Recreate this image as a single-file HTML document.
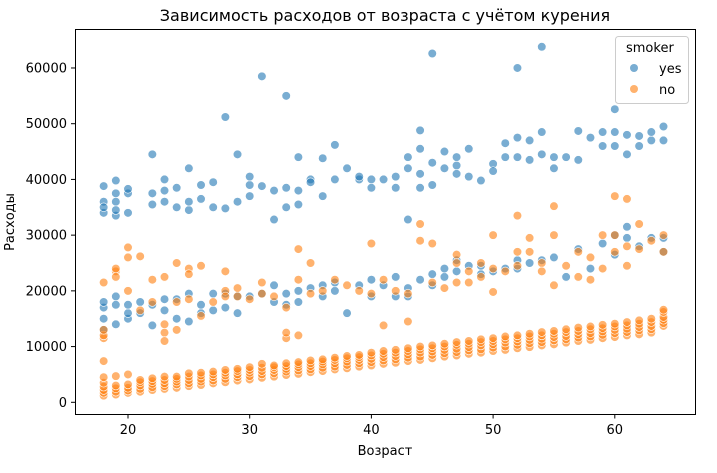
<!DOCTYPE html>
<html><head><meta charset="utf-8"><style>
html,body{margin:0;padding:0;background:#fff;}
svg{display:block;font-family:"DejaVu Sans","Liberation Sans",sans-serif;}
</style></head><body>
<svg id="chart" width="717" height="473">
<text x="385" y="21" font-size="16" text-anchor="middle" fill="#000">Зависимость расходов от возраста с учётом курения</text>
<g id="grid"></g>
<g id="points"></g>
<rect x="75.5" y="29.5" width="620" height="385" fill="none" stroke="#000" stroke-width="1"/>
<g id="xticks"></g>
<g id="yticks"></g>
<text x="385" y="455" font-size="13" text-anchor="middle">Возраст</text>
<text transform="translate(14,222) rotate(-90)" font-size="13" text-anchor="middle">Расходы</text>
<g>
<rect x="615.5" y="36.5" width="73" height="67" rx="3" fill="#fff" fill-opacity="0.8" stroke="#ccc"/>
<text x="626" y="52" font-size="13">smoker</text>
<circle cx="634" cy="68" r="4" fill="#1f77b4" fill-opacity="0.6"/>
<text x="659" y="73" font-size="13">yes</text>
<circle cx="634" cy="89" r="4" fill="#ff7f0e" fill-opacity="0.6"/>
<text x="659" y="94" font-size="13">no</text>
</g>
</svg>
<script>
const xTicks=[20,30,40,50,60];
const yTicks=[0,10000,20000,30000,40000,50000,60000];
const bandAges=[18,19,20,21,22,23,24,25,26,27,28,29,30,31,32,33,34,35,36,37,38,39,40,41,42,43,44,45,46,47,48,49,50,51,52,53,54,55,56,57,58,59,60,61,62,63,64];
const bandCharges=[[1.2,1.7,2.2,2.8,3.5,4.5],[1.4,1.9,2.5,3.0,4.7],[1.7,2.1,2.6,3.2,5.0],[1.9,2.4,3.0,3.6,4.0],[2.2,2.7,3.3,3.8,4.3],[2.4,2.9,3.4,4.0,4.6],[2.6,3.2,3.7,4.2,4.6],[2.9,3.4,4.0,4.6,5.2],[3.1,3.7,4.2,4.8,5.3],[3.4,3.9,4.5,5.0,5.5],[3.6,4.2,4.8,5.3,5.8],[3.9,4.5,5.0,5.6,6.0],[4.1,4.7,5.3,5.8,6.3],[4.4,5.0,5.6,6.2,6.9],[4.6,5.2,5.8,6.3,6.6],[4.9,5.5,6.0,6.5,7.0],[5.1,5.7,6.3,6.8,7.2],[5.4,5.9,6.5,7.0,7.5],[5.6,6.2,6.8,7.3,7.7],[5.9,6.4,7.0,7.6,8.0],[6.1,6.7,7.3,7.9,8.3],[6.4,7.0,7.6,8.1,8.5],[6.6,7.2,7.8,8.4,8.9],[6.9,7.5,8.1,8.7,9.2],[7.1,7.7,8.3,8.9,9.4],[7.4,8.0,8.6,9.2,9.7],[7.6,8.2,8.9,9.5,10.0],[7.9,8.5,9.1,9.7,10.2],[8.2,8.8,9.4,10.0,10.5],[8.4,9.0,9.6,10.3,10.8],[8.7,9.3,9.9,10.5,11.0],[8.9,9.5,10.2,10.8,11.3],[9.2,9.8,10.4,11.0,11.5],[9.4,10.0,10.7,11.3,11.8],[9.7,10.3,10.9,11.5,12.0],[9.9,10.6,11.2,11.8,12.3],[10.2,10.8,11.4,12.0,12.6],[10.4,11.1,11.7,12.3,12.8],[10.7,11.3,11.9,12.6,13.1],[11.0,11.6,12.2,12.8,13.4],[11.2,11.8,12.4,13.1,13.6],[11.5,12.1,12.7,13.3,13.9],[11.7,12.4,13.0,13.6,14.1],[12.0,12.6,13.2,13.8,14.4],[12.2,12.9,13.5,14.1,14.7],[12.5,13.1,13.7,14.4,15.0],[13.7,14.2,14.8,15.3,16.2,16.6]];
const nonSmokerScatter=[[18,7.4],[18,11.5],[18,12.0],[18,13.0],[18,21.5],[19,23.5],[19,24.0],[19,22.5],[20,26.0],[20,27.8],[20,20.0],[21,26.2],[21,16.5],[22,22.0],[22,18.0],[23,12.5],[23,11.0],[23,14.0],[23,22.5],[24,25.0],[24,18.0],[24,13.0],[25,24.0],[25,23.0],[25,18.5],[26,24.5],[26,15.5],[27,18.0],[28,23.5],[28,20.0],[28,19.0],[29,20.5],[29,19.0],[30,18.5],[31,21.5],[31,19.5],[32,19.0],[33,11.5],[33,12.5],[33,17.0],[34,27.5],[34,22.0],[34,12.0],[35,25.0],[35,19.5],[36,20.0],[37,22.0],[38,21.0],[39,20.0],[40,28.5],[40,19.5],[41,13.8],[41,22.0],[42,20.0],[43,14.5],[43,19.5],[44,29.0],[44,32.0],[45,28.5],[45,21.5],[46,20.5],[47,26.5],[47,21.5],[47,25.0],[48,23.5],[48,21.5],[49,25.0],[49,22.5],[50,30.0],[50,24.0],[50,19.8],[51,23.5],[52,33.5],[52,27.0],[52,24.5],[53,29.5],[53,27.0],[54,25.0],[54,23.5],[55,35.2],[55,30.0],[55,21.0],[56,24.5],[57,27.0],[57,22.5],[58,26.0],[58,22.0],[59,24.0],[59,30.0],[60,37.0],[60,30.0],[60,27.0],[61,36.5],[61,24.5],[61,28.0],[62,32.0],[62,27.5],[63,29.0],[64,30.0],[64,27.0]];
const smokerLow=[[18,13.0],[18,15.0],[18,17.0],[18,18.0],[19,14.0],[19,17.5],[19,19.0],[20,15.0],[20,16.0],[20,17.5],[21,16.0],[21,18.0],[22,13.8],[22,17.5],[23,16.5],[23,18.5],[24,15.0],[24,18.5],[25,14.5],[25,19.5],[26,16.0],[26,17.5],[27,16.5],[27,19.5],[28,17.0],[28,19.5],[29,16.0],[29,19.0],[30,19.0],[31,19.5],[32,18.0],[32,21.0],[33,17.5],[33,19.5],[34,18.0],[34,20.0],[35,20.5],[36,19.0],[36,21.0],[37,20.0],[37,21.5],[38,16.0],[39,21.0],[40,19.0],[40,22.0],[41,21.0],[42,19.0],[42,22.5],[43,19.0],[43,20.5],[44,22.0],[45,21.0],[45,23.0],[46,22.5],[46,24.0],[47,23.5],[47,25.5],[48,24.5],[49,23.0],[49,24.5],[50,23.5],[51,24.0],[52,24.0],[52,25.5],[53,25.0],[54,25.5],[55,26.0],[56,22.5],[57,27.5],[58,24.0],[59,28.5],[60,26.5],[60,30.0],[61,29.5],[61,31.5],[62,28.0],[63,29.5],[64,27.0],[64,29.5]];
const smokerHigh=[[18,34.0],[18,36.0],[18,38.8],[18,35.0],[19,33.5],[19,36.0],[19,37.5],[19,39.8],[19,34.5],[20,34.0],[20,37.5],[20,38.3],[22,35.5],[22,37.5],[22,44.5],[23,36.0],[23,38.0],[23,40.0],[24,35.0],[24,38.5],[25,34.5],[25,42.0],[25,36.0],[26,36.5],[26,39.0],[27,35.0],[27,39.5],[28,34.8],[28,51.2],[29,36.0],[29,44.5],[30,37.0],[30,39.0],[30,40.5],[31,58.5],[31,38.8],[32,38.0],[32,32.8],[33,55.0],[33,38.5],[33,35.0],[34,44.0],[34,38.0],[34,35.5],[35,40.0],[35,39.5],[36,43.8],[36,37.0],[37,46.2],[37,40.0],[38,42.0],[39,40.0],[39,40.5],[40,38.5],[40,40.0],[41,40.0],[42,40.5],[42,38.5],[43,44.0],[43,42.0],[43,32.8],[44,48.8],[44,45.5],[44,41.0],[44,38.5],[45,62.6],[45,43.0],[45,39.0],[46,42.0],[46,45.0],[47,42.5],[47,44.0],[47,41.0],[48,45.5],[48,40.5],[49,39.8],[50,42.8],[50,41.5],[51,44.0],[51,46.5],[52,60.0],[52,47.5],[52,44.0],[53,43.5],[53,47.0],[54,63.8],[54,48.5],[54,44.5],[55,44.0],[55,42.0],[56,44.0],[57,48.7],[57,43.5],[58,47.5],[59,48.5],[59,46.0],[60,52.6],[60,48.5],[60,46.0],[61,48.0],[61,44.5],[62,46.0],[62,47.8],[63,47.0],[63,48.5],[64,49.5],[64,47.0]];

const NS="http://www.w3.org/2000/svg";
function xScale(a){return 128+(a-20)*12.17;}
function yScale(v){return 402.3-v*0.005572;}
const xt=document.getElementById('xticks');
xTicks.forEach(t=>{
  const x=xScale(t);
  const l=document.createElementNS(NS,'line');
  l.setAttribute('x1',x);l.setAttribute('x2',x);l.setAttribute('y1',414.5);l.setAttribute('y2',418.5);l.setAttribute('stroke','#000');
  
  
  xt.appendChild(l);
  const s=document.createElementNS(NS,'text');
  s.setAttribute('x',x);s.setAttribute('y',434);s.setAttribute('font-size','13');s.setAttribute('text-anchor','middle');
  s.textContent=t;
  
  
  xt.appendChild(s);
});
const yt=document.getElementById('yticks');
yTicks.forEach(t=>{
  const y=yScale(t);
  const l=document.createElementNS(NS,'line');
  l.setAttribute('x1',71);l.setAttribute('x2',75.5);l.setAttribute('y1',y);l.setAttribute('y2',y);l.setAttribute('stroke','#000');
  
  
  yt.appendChild(l);
  const s=document.createElementNS(NS,'text');
  s.setAttribute('x',67);s.setAttribute('y',y+4.5);s.setAttribute('font-size','13');s.setAttribute('text-anchor','end');
  s.textContent=t;
  
  
  yt.appendChild(s);
});
const pts=document.getElementById('points');
function dot(a,k,color,name){
  const c=document.createElementNS(NS,'circle');
  c.setAttribute('cx',xScale(a));c.setAttribute('cy',yScale(k*1000));c.setAttribute('r',4.3);
  c.setAttribute('fill',color);c.setAttribute('fill-opacity','0.6');c.setAttribute('stroke','#fff');c.setAttribute('stroke-width','0.6');
  
  
  pts.appendChild(c);
}
smokerHigh.forEach(p=>dot(p[0],p[1],'#1f77b4','smoker-point'));
smokerLow.forEach(p=>dot(p[0],p[1],'#1f77b4','smoker-point'));
nonSmokerScatter.forEach(p=>dot(p[0],p[1],'#ff7f0e','non-smoker-point'));
bandAges.forEach((a,i)=>bandCharges[i].forEach(v=>dot(a,v,'#ff7f0e','non-smoker-point')));
</script>
</body></html>
